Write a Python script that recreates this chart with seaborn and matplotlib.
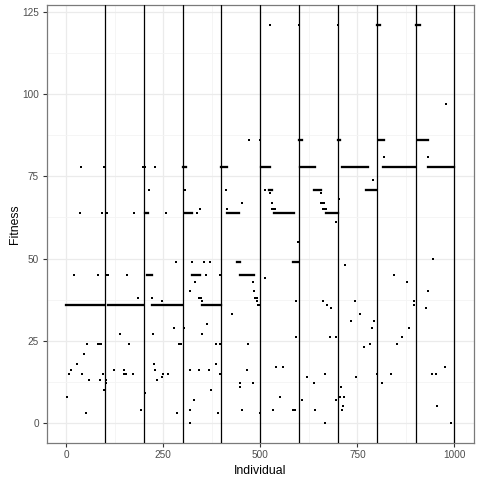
import numpy as np
import pandas as pd
import matplotlib
matplotlib.use("Agg")
import matplotlib.pyplot as plt
import seaborn as sns

# single individuals
pts_x = [
    # generation 1
    39, 98, 35, 92, 19, 81, 53, 81, 86, 91, 45, 29, 12, 7, 40, 94, 58, 86, 97, 3, 50,
    # generation 2
    199, 104, 174, 106, 109, 156, 184, 140, 161, 122, 150, 148, 154, 171, 102, 102, 194,
    # generation 3
    201, 204, 228, 214, 256, 282, 220, 248, 278, 223, 291, 295, 225, 230, 250, 263, 246, 233, 202, 286,
    # generation 4
    307, 338, 345, 325, 354, 371, 361, 397, 333, 318, 343, 347, 349, 363, 303, 350, 385, 395,
    387, 320, 341, 369, 395, 374, 330, 318, 392, 320,
    # generation 5
    472, 498, 411, 454, 415, 481, 484, 486, 489, 492, 492, 495, 498, 426, 469, 466, 448, 480, 449, 454, 498,
    # generation 6
    526, 512, 526, 531, 530, 535, 539, 597, 512, 593, 593, 541, 558, 551, 533, 583, 586, 590,
    # generation 7
    600, 656, 655, 660, 664, 661, 666, 670, 696, 662, 672, 682, 680, 696, 667, 620, 638, 607, 696, 641, 667,
    # generation 8
    699, 791, 703, 718, 745, 757, 734, 793, 788, 783, 768, 747, 708, 706, 716, 713, 711,
    # generation 9
    818, 844, 877, 895, 895, 883, 865, 852, 801, 837, 813,
    # generation 10
    979, 932, 945, 932, 927, 975, 942, 952, 955, 991,
]
pts_fit = [
    78, 78, 64, 64, 45, 45, 24, 24, 24, 24, 21, 18, 16, 15, 15, 15, 13, 13, 10, 8, 3,
    78, 64, 64, 45, 45, 45, 38, 27, 24, 16, 16, 15, 15, 15, 13, 12, 4,
    78, 78, 78, 71, 64, 49, 38, 37, 29, 27, 24, 24, 18, 16, 15, 15, 14, 13, 9, 3,
    71, 64, 65, 49, 49, 49, 45, 45, 43, 40, 38, 38, 37, 30, 29, 27, 24, 24,
    18, 16, 16, 16, 15, 10, 7, 4, 3, 0,
    86, 86, 71, 67, 65, 43, 40, 38, 38, 38, 37, 36, 36, 33, 24, 16, 12, 12, 11, 4, 3,
    121, 71, 70, 67, 65, 65, 65, 55, 44, 37, 26, 17, 17, 8, 4, 4, 4, 4,
    121, 70, 67, 67, 67, 65, 65, 65, 61, 37, 36, 35, 26, 26, 15, 14, 12, 7, 7, 4, 0,
    121, 74, 68, 48, 37, 33, 31, 31, 29, 24, 23, 14, 11, 8, 8, 5, 4,
    81, 45, 43, 37, 36, 29, 26, 24, 15, 15, 12,
    97, 81, 50, 40, 35, 17, 15, 15, 5, 0,
]

# runs of consecutive individuals sharing one fitness value
run_start = [0, 108, 221, 204, 208, 349, 300, 306, 323, 398, 413, 449, 439,
             502, 534, 522, 585, 603, 668, 639, 600, 711, 773, 699, 817, 800, 805,
             933, 901, 907]
run_end = [98, 199, 299, 210, 222, 400, 308, 325, 345, 413, 444, 484, 449,
           524, 588, 531, 597, 641, 699, 656, 607, 777, 799, 706, 899, 809, 818,
           999, 911, 932]
run_fit = [36, 36, 36, 64, 45, 36, 78, 64, 45, 78, 64, 45, 49,
           78, 64, 71, 49, 78, 64, 71, 86, 78, 71, 86, 78, 121, 86,
           78, 121, 86]

gen_breaks = [100, 200, 300, 400, 500, 600, 700, 800, 900, 1000]

df = pd.DataFrame({"Individual": pts_x, "Fitness": pts_fit})
runs = pd.DataFrame({"start": run_start, "end": run_end, "Fitness": run_fit})

sns.set_style("white")
plt.rcParams["font.family"] = ["Liberation Sans", "DejaVu Sans"]

fig = plt.figure(figsize=(4.8, 4.8), dpi=100)
ax = fig.add_axes([0.0973, 0.0777, 0.890, 0.911])

ax.set_xlim(-50, 1050)
ax.set_ylim(-6.05, 127.05)
ax.set_xticks([0, 250, 500, 750, 1000])
ax.set_yticks([0, 25, 50, 75, 100, 125])
ax.set_xticks([125, 375, 625, 875], minor=True)
ax.set_yticks([12.5, 37.5, 62.5, 87.5, 112.5], minor=True)
ax.grid(True, which="major", color="#EBEBEB", linewidth=0.9)
ax.grid(True, which="minor", color="#F4F4F4", linewidth=0.6)
ax.set_axisbelow(True)

sns.scatterplot(data=df, x="Individual", y="Fitness", ax=ax,
                marker="s", s=4, color="black", linewidth=0, zorder=3)
ax.hlines(runs["Fitness"], runs["start"], runs["end"], colors="black",
          linewidth=1.65, capstyle="projecting", zorder=3)

for b in gen_breaks:
    ax.axvline(b, color="black", linewidth=0.9, zorder=4)

for s in ax.spines.values():
    s.set_color("#7a7a7a")
    s.set_linewidth(0.9)

ax.tick_params(which="major", direction="out", length=3, width=0.8,
               color="#333333", labelsize=7.2, labelcolor="#4D4D4D",
               left=True, bottom=True, pad=2.5)
ax.tick_params(which="minor", length=0)
ax.set_xlabel("Individual", fontsize=8.8, color="black", labelpad=3)
ax.set_ylabel("Fitness", fontsize=8.8, color="black", labelpad=1)

fig.savefig("out.png", dpi=100)
